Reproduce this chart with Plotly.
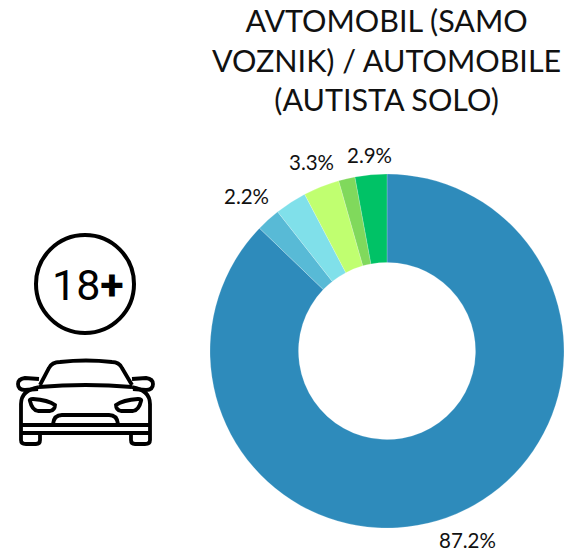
import math
import plotly.graph_objects as go

W, H = 566, 558

title_text = "AVTOMOBIL (SAMO<br>VOZNIK) / AUTOMOBILE<br>(AUTISTA SOLO)"
categories = ["A", "B", "C", "D", "E", "F"]
values = [87.2, 2.2, 2.9, 3.3, 1.5, 2.9]
shown_labels = ["87.2%", "2.2%", "", "3.3%", "", "2.9%"]
colors = ["#2E8BBB", "#58BAD6", "#80E0EA", "#C0FF70", "#80D95C", "#00C266"]

CX, CY, R = 387, 351, 177


def X(v):
    return v / W


def Y(v):
    return 1 - v / H


def path(*segs):
    out = []
    for s in segs:
        if isinstance(s, str):
            out.append(s)
        else:
            out.append(f"{X(s[0]):.5f},{Y(s[1]):.5f}")
    return " ".join(out)


def mirrored(p):
    return (171 - p[0], p[1])


line = dict(color="#000000", width=3.8)
shapes = []


def add(*segs):
    shapes.append(dict(type="path", xref="paper", yref="paper", path=path(*segs), line=line))


def add_both(*segs):
    add(*segs)
    add(*[s if isinstance(s, str) else mirrored(s) for s in segs])


# badge circle
shapes.append(dict(type="circle", xref="paper", yref="paper",
                   x0=X(36), x1=X(134), y0=Y(333), y1=Y(235),
                   line=dict(color="#000000", width=4)))
# car: windscreen and roof
add("M", (40, 385), "L", (49, 368), "Q", (52, 362), (60, 362), "Q", (86, 359), (112, 362),
    "Q", (119, 362), (122, 368), "L", (132, 385))
add("M", (39, 387), "Q", (86, 383), (132, 387))
add_both("M", (39, 387), "Q", (21, 390), (21, 404), "L", (21, 436))
add("M", (21, 425), "L", (150, 425))
add("M", (21, 433), "L", (150, 433))
add("M", (53, 424), "Q", (54, 415), (62, 415), "L", (109, 415), "Q", (117, 415), (118, 424))
add_both("M", (39, 379), "L", (25, 378), "Q", (18, 379), (18, 384), "Q", (18, 390), (25, 390),
         "L", (38, 389))
add_both("M", (21, 436), "L", (21, 440), "Q", (21, 444), (26, 444), "L", (36, 444),
         "Q", (40, 444), (40, 440), "L", (40, 434))
add_both("M", (30, 401), "Q", (29, 399), (33, 399), "Q", (48, 400), (55, 405), "Q", (55, 410), (50, 411),
         "L", (38, 411), "Q", (32, 410), (30, 401), "Z")

fig = go.Figure(go.Pie(
    labels=categories,
    values=values,
    textinfo="none",
    hole=0.5,
    sort=False,
    direction="clockwise",
    rotation=0,
    marker=dict(colors=colors, line=dict(color="rgba(255,255,255,0.4)", width=0.5)),
    domain=dict(x=[X(CX - R), X(CX + R)], y=[Y(CY + R), Y(CY - R)]),
    showlegend=False,
))

annotations = [
    dict(text=title_text, xref="paper", yref="paper", x=X(386), y=Y(59),
         xanchor="center", yanchor="middle", showarrow=False, align="center",
         font=dict(family="Lato, sans-serif", size=30.5, color="#111111")),
    dict(text="18<b>+</b>", xref="paper", yref="paper", x=X(88), y=Y(285),
         xanchor="center", yanchor="middle", showarrow=False,
         font=dict(family="Roboto, sans-serif", size=43, color="#000000")),
]

total = sum(values)
cum = 0
for val, lab in zip(values, shown_labels):
    theta = 2 * math.pi * (cum + val / 2) / total
    cum += val
    if not lab:
        continue
    s, c = math.sin(theta), math.cos(theta)
    half_w = 4.5 + 4.9 * len(lab) + 2
    r = R + 8 + abs(s) * half_w + abs(c) * 9
    annotations.append(dict(text=lab, xref="paper", yref="paper",
                            x=X(CX + r * s), y=Y(CY - r * c),
                            xanchor="center", yanchor="middle", showarrow=False,
                            font=dict(family="Lato, sans-serif", size=20.5, color="#111111")))

fig.update_layout(
    width=W, height=H,
    margin=dict(l=0, r=0, t=0, b=0),
    paper_bgcolor="white",
    shapes=shapes,
    annotations=annotations,
)
# Remove the default page margin so that the figure fills the window exactly.
fig.write_html("out.html", config=dict(displayModeBar=False),
               post_script="document.body.style.margin='0';")
